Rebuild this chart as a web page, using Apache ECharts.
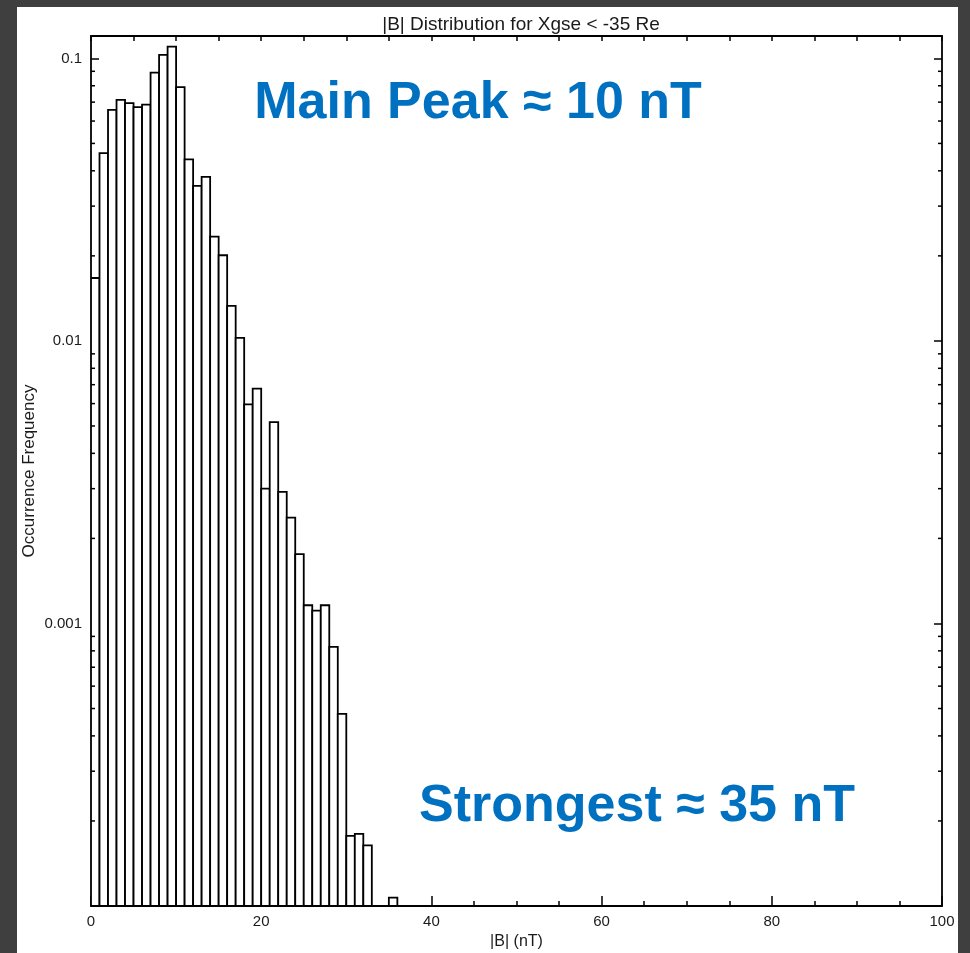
<!DOCTYPE html>
<html>
<head>
<meta charset="utf-8">
<script src="https://cdn.jsdelivr.net/npm/echarts@6/dist/echarts.min.js"></script>
<style>
  html, body { margin: 0; padding: 0; width: 970px; height: 953px; background: #3f3f3f; overflow: hidden; }
  #chart { position: absolute; left: 17px; top: 7px; width: 941px; height: 946px; background: #ffffff; }
</style>
</head>
<body>
<div id="chart"></div>
<script>
// Histogram bins of |B| (nT): left edge of each 1 nT bin and its occurrence frequency
const binStart = [0, 1, 2, 3, 4, 5, 6, 7, 8, 9, 10, 11, 12, 13, 14, 15, 16, 17, 18, 19,
                  20, 21, 22, 23, 24, 25, 26, 27, 28, 29, 30, 31, 32, 35];
const occurrenceFreq = [0.0167, 0.0462, 0.0657, 0.0713, 0.0694, 0.0672, 0.0686, 0.0891, 0.1029, 0.1101,
                        0.0791, 0.0439, 0.0354, 0.0381, 0.0234, 0.0201, 0.0133, 0.01025, 0.00596, 0.00678,
                        0.0030, 0.00516, 0.00292, 0.00237, 0.00176, 0.00116, 0.00111, 0.00116, 0.000826, 0.000479,
                        0.000177, 0.000180, 0.000164, 0.000107];
const binWidth = 1;

// Axis ranges and tick values
const xRange = [0, 100];
const yRange = [0.0001, 0.12];
const yLabelTicks = [0.1, 0.01, 0.001];
const yMinorTicks = [0.0002, 0.0003, 0.0004, 0.0005, 0.0006, 0.0007, 0.0008, 0.0009,
                     0.002, 0.003, 0.004, 0.005, 0.006, 0.007, 0.008, 0.009,
                     0.02, 0.03, 0.04, 0.05, 0.06, 0.07, 0.08, 0.09];

const titleText = '|B| Distribution for Xgse < -35 Re';
const xName = '|B| (nT)';
const yName = 'Occurrence Frequency';
const noteMain = 'Main Peak \u2248 10 nT';
const noteStrong = 'Strongest \u2248 35 nT';

const FONT = '"Liberation Sans", Arial, Helvetica, sans-serif';
const INK = '#1a1a1a';

const chart = echarts.init(document.getElementById('chart'), null, { renderer: 'canvas' });

const histData = binStart.map((b, i) => [b, occurrenceFreq[i]]);

function yLabel(v) {
  for (const t of yLabelTicks) {
    if (Math.abs(v - t) / t < 1e-6) return String(t);
  }
  return '';
}

const option = {
  animation: false,
  backgroundColor: '#ffffff',
  title: {
    text: titleText,
    left: 499,
    top: 3,
    textAlign: 'center',
    textStyle: { fontFamily: FONT, fontSize: 19, fontWeight: 'normal', color: INK }
  },
  grid: { left: 74, top: 29, right: 16, bottom: 47, containLabel: false, outerBoundsMode: 'none' },
  xAxis: [
    {
      type: 'value', position: 'bottom', min: xRange[0], max: xRange[1], interval: 20,
      name: xName, nameLocation: 'middle', nameGap: 28, nameMoveOverlap: false,
      nameTextStyle: { fontFamily: FONT, fontSize: 16, color: INK },
      axisLine: { show: true, onZero: false, lineStyle: { color: '#000', width: 1.8 } },
      axisTick: { show: true, inside: true, length: 10, lineStyle: { color: '#000', width: 1.5 } },
      minorTick: { show: true, splitNumber: 4, length: 5, lineStyle: { color: '#000', width: 1.5 } },
      axisLabel: { fontFamily: FONT, fontSize: 15, color: INK, margin: 8 },
      splitLine: { show: false }
    },
    {
      type: 'value', position: 'top', min: xRange[0], max: xRange[1], interval: 5,
      axisLine: { show: true, onZero: false, lineStyle: { color: '#000', width: 1.8 } },
      axisTick: { show: true, inside: true, length: 5, lineStyle: { color: '#000', width: 1.5 } },
      axisLabel: { show: false },
      splitLine: { show: false }
    }
  ],
  yAxis: [
    {
      type: 'log', logBase: 10, position: 'left', min: yRange[0], max: yRange[1],
      name: yName, nameLocation: 'middle', nameGap: 53, nameRotate: 90, nameMoveOverlap: false,
      nameTextStyle: { fontFamily: FONT, fontSize: 17, color: INK },
      axisLine: { show: true, onZero: false, lineStyle: { color: '#000', width: 1.8 } },
      axisTick: { show: true, inside: true, length: 8, lineStyle: { color: '#000', width: 1.5 } },
      axisLabel: { fontFamily: FONT, fontSize: 15, color: INK, margin: 9, formatter: yLabel },
      splitLine: { show: false }
    },
    {
      type: 'log', logBase: 10, position: 'right', min: yRange[0], max: yRange[1],
      axisLine: { show: true, onZero: false, lineStyle: { color: '#000', width: 1.8 } },
      axisTick: { show: true, inside: true, length: 8, lineStyle: { color: '#000', width: 1.5 } },
      axisLabel: { show: false },
      splitLine: { show: false }
    }
  ],
  graphic: [
    {
      type: 'text', x: 461, y: 97, z: 100,
      style: { text: noteMain, fill: '#0070c0', font: 'bold 52px ' + FONT,
               align: 'center', verticalAlign: 'middle', textAlign: 'center', textVerticalAlign: 'middle' }
    },
    {
      type: 'text', x: 620, y: 800, z: 100,
      style: { text: noteStrong, fill: '#0070c0', font: 'bold 52px ' + FONT,
               align: 'center', verticalAlign: 'middle', textAlign: 'center', textVerticalAlign: 'middle' }
    }
  ],
  series: [
    {
      // histogram bars, each spanning one bin from the axis floor up to its frequency
      type: 'custom',
      xAxisIndex: 0, yAxisIndex: 0,
      clip: true,
      encode: { x: 0, y: 1 },
      data: histData,
      renderItem: function (params, api) {
        const x0 = api.value(0);
        const v = api.value(1);
        const tl = api.coord([x0, v]);
        const br = api.coord([x0 + binWidth, yRange[0]]);
        return {
          type: 'rect',
          shape: { x: tl[0], y: tl[1], width: br[0] - tl[0], height: br[1] - tl[1] },
          style: { fill: '#ffffff', stroke: '#000000', lineWidth: 1.8 }
        };
      },
      z: 3
    },
    {
      // minor log ticks (2..9 of each decade) on the left and right frame edges
      type: 'custom',
      xAxisIndex: 0, yAxisIndex: 0,
      encode: { y: 0 },
      data: yMinorTicks.map(v => [v]),
      silent: true,
      renderItem: function (params, api) {
        const v = api.value(0);
        const l = api.coord([xRange[0], v]);
        const r = api.coord([xRange[1], v]);
        const st = { stroke: '#000', lineWidth: 1.5 };
        return {
          type: 'group',
          children: [
            { type: 'line', shape: { x1: l[0], y1: l[1], x2: l[0] + 4, y2: l[1] }, style: st },
            { type: 'line', shape: { x1: r[0] - 4, y1: r[1], x2: r[0], y2: r[1] }, style: st }
          ]
        };
      },
      z: 4
    }
  ]
};

chart.setOption(option);
</script>
</body>
</html>
